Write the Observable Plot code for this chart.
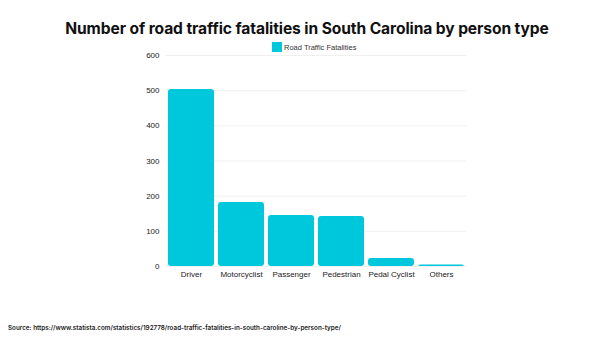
<!DOCTYPE html>
<html>
<head>
<meta charset="utf-8">
<script src="https://cdn.jsdelivr.net/npm/d3@7"></script>
<script src="https://cdn.jsdelivr.net/npm/@observablehq/plot@0.6"></script>
<style>
  html, body { margin: 0; padding: 0; background: #fff; }
  #wrap { position: relative; width: 600px; height: 338px; overflow: hidden; font-family: "Liberation Sans", Arial, sans-serif; }
  #title { position: absolute; left: 0; width: 614px; top: 19px; text-align: center; font-family: Inter, "DejaVu Sans", sans-serif; font-weight: 700; font-size: 15.6px; color: #111; letter-spacing: -0.1px; }
  #legend { position: absolute; left: 272px; top: 42px; font-size: 7.5px; color: #333; display: flex; align-items: center; }
  #legend .sw { width: 10px; height: 10px; background: #00c8dc; margin-right: 2px; }
  #source { position: absolute; left: 8px; top: 324px; font-family: Inter, sans-serif; font-weight: 600; font-size: 6.3px; color: #222; }
  #chart { position: absolute; left: 0; top: 0; }
</style>
</head>
<body>
<div id="wrap">
  <div id="chart"></div>
  <div id="title">Number of road traffic fatalities in South Carolina by person type</div>
  <div id="legend"><span class="sw"></span><span>Road Traffic Fatalities</span></div>
  <div id="source">Source: https://www.statista.com/statistics/192778/road-traffic-fatalities-in-south-caroline-by-person-type/</div>
</div>
<script>
const categories = ["Driver", "Motorcyclist", "Passenger", "Pedestrian", "Pedal Cyclist", "Others"];
const fatalities = [503, 182, 145, 142, 23, 4];
const yTicks = [0, 100, 200, 300, 400, 500, 600];

const data = categories.map((c, i) => ({category: c, value: fatalities[i]}));

const chart = Plot.plot({
  width: 600,
  height: 338,
  marginTop: 55,
  marginBottom: 72,
  marginLeft: 166,
  marginRight: 134,
  style: {fontFamily: "'Liberation Sans', Arial, sans-serif", fontSize: "8px", color: "#222", background: "transparent"},
  x: {domain: categories, paddingInner: 0.08, paddingOuter: 0, label: null, tickSize: 0, tickPadding: 5},
  y: {domain: [0, 600], ticks: yTicks, label: null, tickSize: 0, tickPadding: 6, grid: false},
  marks: [
    Plot.ruleY(yTicks, {stroke: "#ececec", strokeWidth: 0.8}),
    Plot.barY(data, {x: "category", y: "value", fill: "#00c8dc", rx: 3}),
    Plot.axisY({ticks: yTicks, tickSize: 0, tickPadding: 7, label: null, fontSize: 8}),
    Plot.axisX({tickSize: 0, tickPadding: 5, label: null, fontSize: 8})
  ]
});
document.getElementById("chart").appendChild(chart);
</script>
</body>
</html>
